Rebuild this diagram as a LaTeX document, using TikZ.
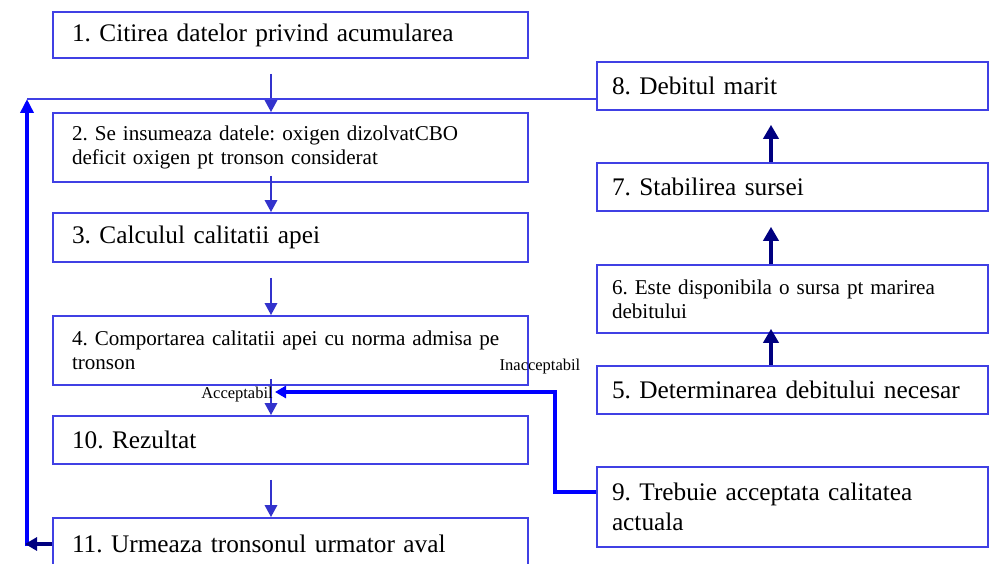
\documentclass[tikz,border=0pt]{standalone}
\usepackage{fontspec}
\setmainfont{Liberation Serif}
\usetikzlibrary{arrows.meta}

\definecolor{boxblue}{RGB}{64,64,228}
\definecolor{arrowblue}{RGB}{51,51,204}
\definecolor{pureblue}{RGB}{0,0,255}
\definecolor{darknavy}{RGB}{0,0,128}

\frenchspacing
\newcommand{\bigtxt}{\fontsize{25.3}{30}\selectfont}
\newcommand{\smalltxt}{\fontsize{21.1}{24}\selectfont}
\newcommand{\labeltxt}{\fontsize{16.5}{19}\selectfont}

\tikzset{
 lbox/.style={draw=boxblue, line width=1.6pt, minimum width=475pt, inner xsep=19pt, inner ysep=0pt, text width=437pt, align=left},
 rbox/.style={draw=boxblue, line width=1.6pt, minimum width=391pt, inner xsep=15pt, inner ysep=0pt, text width=361pt, align=left},
 flowarrow/.style={draw=arrowblue, line width=2.8pt, -{Triangle[length=12pt,width=12pt]}},
 uparrow/.style={draw=darknavy, line width=4.5pt, -{Triangle[length=14pt,width=15pt]}},
}

\begin{document}
\begin{tikzpicture}[x=1pt,y=-1pt]
 \useasboundingbox[fill=white] (0,0) rectangle (989,564);
 \coordinate (axl) at (271,0); %coloana sageti stanga
 \coordinate (axr) at (771,0); %coloana sageti dreapta

 % casete stanga
 \node[lbox, minimum height=46pt, font=\bigtxt] (n1) at (290.5,35) {1. Citirea datelor privind acumularea};
 \node[lbox, minimum height=69pt, font=\smalltxt] (n2) at (290.5,147.5) {2. Se insumeaza datele: oxigen dizolvatCBO\\deficit oxigen pt tronson considerat};
 \node[lbox, minimum height=49pt, font=\bigtxt] (n3) at (290.5,237.5) {3. Calculul calitatii apei};
 \node[lbox, minimum height=69pt, font=\smalltxt] (n4) at (290.5,350.5) {4. Comportarea calitatii apei cu norma admisa pe\\tronson};
 \node[lbox, minimum height=48pt, font=\bigtxt] (n10) at (290.5,440) {10. Rezultat};
 \node[lbox, minimum height=52pt, font=\bigtxt] (n11) at (290.5,544) {11. Urmeaza tronsonul urmator aval};

 % casete dreapta
 \node[rbox, minimum height=48pt, font=\bigtxt] (n8) at (792.5,86) {8. Debitul marit};
 \node[rbox, minimum height=48pt, font=\bigtxt] (n7) at (792.5,187) {7. Stabilirea sursei};
 \node[rbox, minimum height=68pt, font=\smalltxt] (n6) at (792.5,299) {6. Este disponibila o sursa pt marirea\\debitului};
 \node[rbox, minimum height=48pt, font=\bigtxt] (n5) at (792.5,390) {5. Determinarea debitului necesar};
 \node[rbox, minimum height=80pt, font=\bigtxt] (n9) at (792.5,507) {9. Trebuie acceptata calitatea\\actuala};

 % sageti stanga
 \draw[flowarrow] ([yshift=-15pt]n1.south -| axl) -- (n2.north -| axl);
 \draw[flowarrow] ([yshift=7pt]n2.south -| axl) -- (n3.north -| axl);
 \draw[flowarrow] ([yshift=-15pt]n3.south -| axl) -- (n4.north -| axl);
 \draw[flowarrow] ([yshift=7pt]n4.south -| axl) -- (n10.north -| axl);
 \draw[flowarrow] ([yshift=-15pt]n10.south -| axl) -- (n11.north -| axl);

 % sageti dreapta
 \draw[uparrow] (n5.north -| axr) -- ([yshift=5pt]n6.south -| axr);
 \draw[uparrow] (n6.north -| axr) -- ([yshift=-15pt]n7.south -| axr);
 \draw[uparrow] (n7.north -| axr) -- ([yshift=-14pt]n8.south -| axr);

 % bucla de intoarcere
 \coordinate (lb) at (27,544); %colt jos
 \coordinate (lt) at (27,99); %colt sus
 \draw[pureblue, line width=4.5pt] (lb) -- ([yshift=-2pt]lb);
 \draw[pureblue, line width=4.5pt, -{Triangle[length=14pt,width=13pt]}] ([yshift=-2pt]lb) -- (lt);
 \draw[darknavy, line width=4pt, -{Triangle[length=12pt,width=13pt]}] (n11.west) -- ([xshift=-2pt]lb);
 \draw[boxblue, line width=1.8pt] (lt) -- (lt -| n8.west);

 % ramura inacceptabil
 \coordinate (jn) at (275,392); %punct de intrare
 \draw[pureblue, line width=3.5pt, -{Triangle[length=11pt,width=12pt]}] ([yshift=15pt]n9.west) -- ++(-41,0) |- (jn);
 \node[font=\labeltxt] (acc) at (237,395) {Acceptabil};
 \node[font=\labeltxt] (inacc) at (540,367) {Inacceptabil};
\end{tikzpicture}
\end{document}
